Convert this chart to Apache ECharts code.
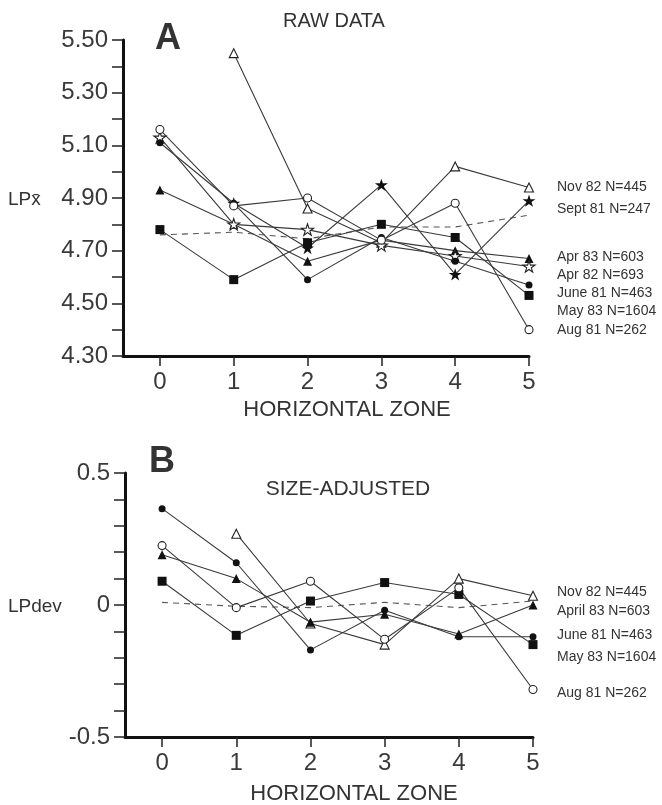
<!DOCTYPE html>
<html>
<head>
<meta charset="utf-8">
<script src="https://cdn.jsdelivr.net/npm/echarts@6/dist/echarts.min.js"></script>
<style>
  html, body { margin: 0; padding: 0; background: #fff; }
  #chart { width: 662px; height: 805px; }
</style>
</head>
<body>
<div id="chart"></div>
<script>
// horizontal zones (x)
const zones = [0, 1, 2, 3, 4, 5];

// panel A: raw LPx (null = no sample in that zone)
const nov82A  = [null, 5.45, 4.86, 4.73, 5.02, 4.94];
const sept81A = [null, 4.88, 4.71, 4.95, 4.61, 4.89];
const apr83A  = [4.93, 4.80, 4.66, 4.74, 4.70, 4.67];
const apr82A  = [5.13, 4.80, 4.78, 4.72, 4.68, 4.64];
const june81A = [5.11, 4.88, 4.59, 4.75, 4.66, 4.57];
const may83A  = [4.78, 4.59, 4.73, 4.80, 4.75, 4.53];
const aug81A  = [5.16, 4.87, 4.90, 4.74, 4.88, 4.40];
const meanA   = [4.76, 4.77, 4.745, 4.79, 4.79, 4.835];

// panel B: size-adjusted LPdev
const nov82B  = [null, 0.27, -0.07, -0.15, 0.10, 0.035];
const apr83B  = [0.19, 0.10, -0.065, -0.035, -0.11, 0.0];
const june81B = [0.365, 0.16, -0.17, -0.02, -0.12, -0.12];
const may83B  = [0.09, -0.115, 0.015, 0.085, 0.04, -0.15];
const aug81B  = [0.225, -0.01, 0.09, -0.13, 0.065, -0.32];
const meanB   = [0.01, -0.005, -0.01, 0.01, -0.01, 0.015];

// tick values
const yTicksA  = [4.3, 4.4, 4.5, 4.6, 4.7, 4.8, 4.9, 5.0, 5.1, 5.2, 5.3, 5.4, 5.5];
const yLabelsA = [4.3, 4.5, 4.7, 4.9, 5.1, 5.3, 5.5];
const yTicksB  = [-0.5, -0.4, -0.3, -0.2, -0.1, 0, 0.1, 0.2, 0.3, 0.4, 0.5];
const yLabelsB = [-0.5, 0, 0.5];

// legend texts
const legendA = ['Nov 82 N=445', 'Sept 81 N=247', 'Apr 83 N=603', 'Apr 82 N=693',
                 'June 81 N=463', 'May 83 N=1604', 'Aug 81 N=262'];
const legendB = ['Nov 82 N=445', 'April 83 N=603', 'June 81 N=463', 'May 83 N=1604', 'Aug 81 N=262'];

const FONT = "'Liberation Sans', Arial, sans-serif";
const STAR = 'path://M50,0 L61.2,34.5 L97.6,34.5 L68.2,55.9 L79.4,90.5 L50,69.1 L20.6,90.5 L31.8,55.9 L2.4,34.5 L38.8,34.5 Z';

function pairs(vals) {
    return zones.map((z, i) => [z, vals[i]]).filter(p => p[1] !== null);
}

function mk(name, vals, grid, symbol, filled, size) {
    return {
        name: name,
        type: 'line',
        xAxisIndex: grid,
        yAxisIndex: grid,
        data: pairs(vals),
        symbol: symbol,
        symbolSize: size,
        symbolKeepAspect: true,
        showAllSymbol: true,
        lineStyle: { color: '#3a3a3a', width: 1.1 },
        itemStyle: {
            color: filled ? '#111' : '#fff',
            borderColor: '#222',
            borderWidth: filled ? 0 : 1.1
        },
        emphasis: { disabled: true },
        z: 3
    };
}

function dashed(vals, grid) {
    return {
        type: 'line',
        xAxisIndex: grid,
        yAxisIndex: grid,
        data: pairs(vals),
        symbol: 'none',
        lineStyle: { color: '#555', width: 1.1, type: [6, 5] },
        z: 2
    };
}

function xAxis(i) {
    return {
        gridIndex: i,
        type: 'value',
        min: -0.5,
        max: 5,
        axisLine: { onZero: false, lineStyle: { color: '#111', width: 3 } },
        axisTick: { customValues: zones, length: 10, lineStyle: { color: '#222', width: 1.5 } },
        axisLabel: { customValues: zones, margin: 14, fontSize: 24, color: '#3a3a3a', fontFamily: FONT },
        splitLine: { show: false }
    };
}

function yAxis(i, min, max, ticks, labels, fmt) {
    return {
        gridIndex: i,
        type: 'value',
        min: min,
        max: max,
        axisLine: { show: true, onZero: false, lineStyle: { color: '#111', width: 3 } },
        axisTick: { show: true, customValues: ticks, length: 11, lineStyle: { color: '#222', width: 1.5 } },
        axisLabel: { customValues: labels, margin: 15, fontSize: 24, color: '#3a3a3a', fontFamily: FONT, formatter: fmt },
        splitLine: { show: false }
    };
}

function txt(s, x, y, font, align) {
    return {
        type: 'text', x: x, y: y,
        style: { text: s, font: font, fill: '#333', align: align || 'left', verticalAlign: 'middle' }
    };
}

const legendYA = [187, 209, 257, 275, 293, 311, 330];
const legendYB = [592, 611, 635, 657, 693];

const graphics = [
    txt('A', 155, 39, 'bold 36px ' + FONT),
    txt('B', 149, 462, 'bold 36px ' + FONT),
    txt('RAW DATA', 334, 21, '20px ' + FONT, 'center'),
    txt('SIZE-ADJUSTED', 348, 489, '21px ' + FONT, 'center'),
    txt('HORIZONTAL ZONE', 347, 410, '22px ' + FONT, 'center'),
    txt('HORIZONTAL ZONE', 354, 794, '22px ' + FONT, 'center'),
    txt('LPx\u0304', 8, 200, '19px ' + FONT),
    txt('LPdev', 8, 607, '19px ' + FONT)
];
legendA.forEach((s, i) => graphics.push(txt(s, 557, legendYA[i], '14px ' + FONT)));
legendB.forEach((s, i) => graphics.push(txt(s, 557, legendYB[i], '14px ' + FONT)));

const chart = echarts.init(document.getElementById('chart'));
chart.setOption({
    animation: false,
    backgroundColor: '#fff',
    grid: [
        { left: 123, top: 40, width: 406, height: 316 },
        { left: 125, top: 473, width: 408, height: 264 }
    ],
    xAxis: [xAxis(0), xAxis(1)],
    yAxis: [
        yAxis(0, 4.3, 5.5, yTicksA, yLabelsA, v => v.toFixed(2)),
        yAxis(1, -0.5, 0.5, yTicksB, yLabelsB, v => String(v))
    ],
    graphic: graphics,
    series: [
        dashed(meanA, 0),
        mk('Nov 82', nov82A, 0, 'triangle', false, 9),
        mk('Sept 81', sept81A, 0, STAR, true, 13),
        mk('Apr 83', apr83A, 0, 'triangle', true, 9),
        mk('Apr 82', apr82A, 0, STAR, false, 12),
        mk('June 81', june81A, 0, 'circle', true, 7),
        mk('May 83', may83A, 0, 'rect', true, 9),
        mk('Aug 81', aug81A, 0, 'circle', false, 8),
        dashed(meanB, 1),
        mk('Nov 82', nov82B, 1, 'triangle', false, 9),
        mk('April 83', apr83B, 1, 'triangle', true, 9),
        mk('June 81', june81B, 1, 'circle', true, 7),
        mk('May 83', may83B, 1, 'rect', true, 9),
        mk('Aug 81', aug81B, 1, 'circle', false, 8)
    ]
});
</script>
</body>
</html>
